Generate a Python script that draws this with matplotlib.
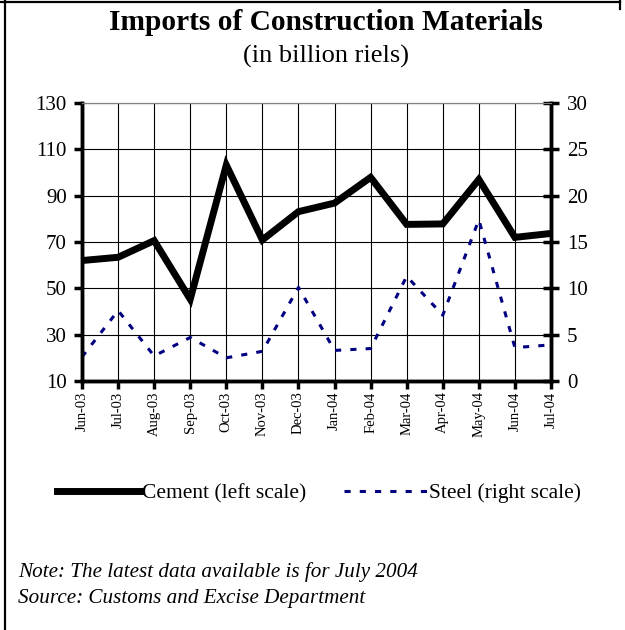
import matplotlib.pyplot as plt
from matplotlib.lines import Line2D

plt.rcParams['font.family'] = ['Liberation Serif', 'DejaVu Serif']

months = ["Jun-03", "Jul-03", "Aug-03", "Sep-03", "Oct-03", "Nov-03", "Dec-03",
          "Jan-04", "Feb-04", "Mar-04", "Apr-04", "May-04", "Jun-04", "Jul-04"]
cement = [62, 63.4, 70.6, 45.3, 103.2, 70.9, 83.1, 86.8, 97.9, 77.6, 77.8, 97, 72, 73.7]
steel = [2.6, 7.6, 2.7, 4.7, 2.5, 3.2, 10.1, 3.3, 3.5, 11.3, 7.1, 17.4, 3.6, 3.9]
left_ticks = [10, 30, 50, 70, 90, 110, 130]
right_ticks = [0, 5, 10, 15, 20, 25, 30]

fig = plt.figure(figsize=(6.25, 6.3), dpi=100)
ax = fig.add_axes([82 / 625, 1 - 381 / 630, (551 - 82) / 625, (381 - 103) / 630])
ax2 = ax.twinx()

x = list(range(len(months)))

# lignes
l1, = ax.plot(x, cement, color="black", linewidth=5, solid_joinstyle="miter",
              label="Cement (left scale)")
l2, = ax2.plot(x, steel, color="#000080", linewidth=2.2, linestyle=(0, (2, 3)),
               label="Steel (right scale)")

ax.set_xlim(0, len(months) - 1)
ax.set_ylim(10, 130)
ax2.set_ylim(0, 30)
ax.set_yticks(left_ticks)
ax2.set_yticks(right_ticks)
ax.set_xticks(x)
ax.set_xticklabels(months, rotation=90, fontsize=10.5)
ax.tick_params(axis="y", labelsize=15, direction="out", length=6, width=2.5, pad=5)
ax.tick_params(axis="x", direction="out", length=6, width=2.5, pad=1.5)
ax2.tick_params(axis="y", labelsize=15, direction="inout", length=11, width=2.5, pad=6)

ax.grid(True, color="black", linewidth=0.8)
ax.set_axisbelow(True)

for a in (ax, ax2):
    a.spines["top"].set_linewidth(0.8)
    a.spines["top"].set_color("gray")
    a.spines["left"].set_linewidth(2.5)
    a.spines["right"].set_linewidth(2.5)
    a.spines["bottom"].set_linewidth(2.5)

fig.text(0.522, 1 - 23 / 630, "Imports of Construction Materials", ha="center", va="center",
         fontsize=21.2, fontweight="bold")
fig.text(0.522, 1 - 56 / 630, "(in billion riels)", ha="center", va="center", fontsize=19)

fig.legend(handles=[l1, l2], loc="center", bbox_to_anchor=(0.5104, 1 - 493 / 630), ncol=2,
           frameon=False, fontsize=15.5, handlelength=3.9, handletextpad=0.05,
           columnspacing=1.77)

fig.text(18 / 625, 1 - 572 / 630, "Note: The latest data available is for July 2004",
         fontsize=15.2, style="italic", ha="left", va="center")
fig.text(18 / 625, 1 - 598 / 630, "Source: Customs and Excise Department",
         fontsize=15.2, style="italic", ha="left", va="center")

# cadre
fig.add_artist(Line2D([0, 620 / 625], [1 - 2 / 630, 1 - 2 / 630], color="black", linewidth=1.6))
fig.add_artist(Line2D([5 / 625, 5 / 625], [0, 1], color="black", linewidth=1.6))
fig.add_artist(Line2D([620 / 625, 620 / 625], [1, 1 - 9 / 630], color="black", linewidth=1.6))

fig.savefig("out.png", dpi=100)
